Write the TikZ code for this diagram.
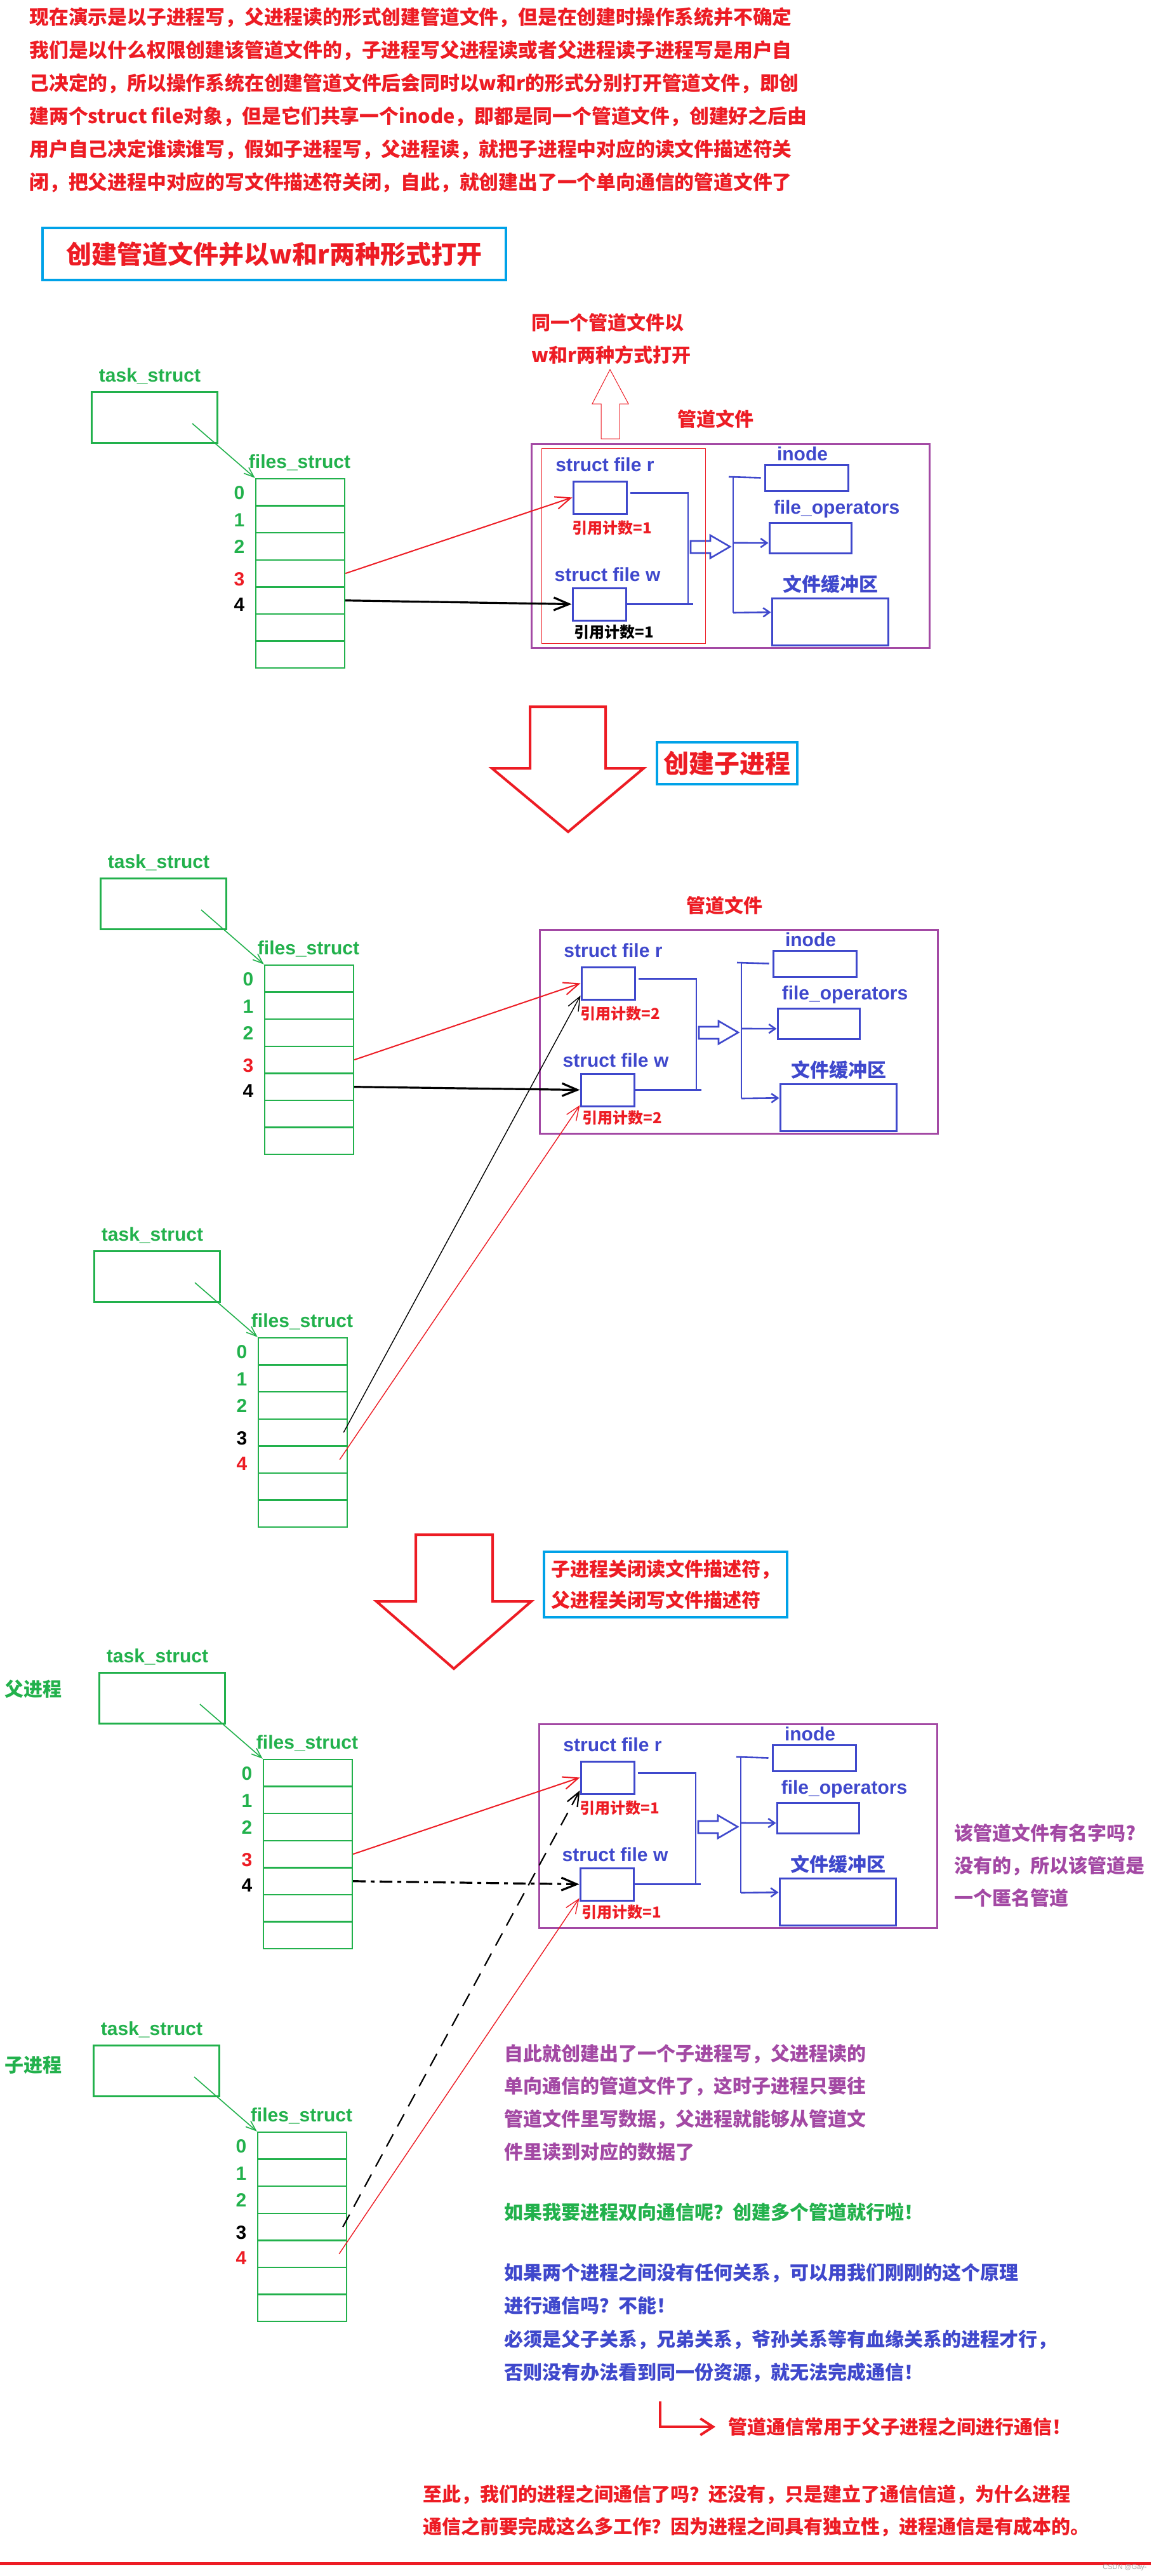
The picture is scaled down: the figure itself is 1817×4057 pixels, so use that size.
\documentclass[tikz,border=0pt]{standalone}
\usepackage{fontspec}
\setmainfont{Noto Sans CJK SC}
\newfontfamily\latfont{Liberation Sans}
\usetikzlibrary{arrows.meta,positioning,calc}

\definecolor{pred}{HTML}{ED1C24}
\definecolor{pgreen}{HTML}{22B14C}
\definecolor{pblue}{HTML}{3F48CC}
\definecolor{ppurple}{HTML}{A349A4}
\definecolor{pcyan}{HTML}{00A2E8}

\tikzset{
    cjk/.style={inner sep=0pt, font=\bfseries\fontsize{15}{25.5}\selectfont},
    lbl/.style={cjk, text height=12pt, text depth=0.6pt},
    latin/.style={lbl, font=\latfont\bfseries\fontsize{15}{18}\selectfont},
    para/.style={cjk, align=left, anchor=north west},
    refcnt/.style={inner sep=0pt, anchor=west, font=\bfseries\fontsize{12}{14}\selectfont, text height=9.6pt, text depth=0.5pt},
    titlebox/.style={draw=pcyan, line width=2pt, text=pred, inner sep=0pt, font=\bfseries\fontsize{20}{24}\selectfont},
    taskbox/.style={draw=pgreen, line width=1.5pt, minimum width=99pt, minimum height=40pt, inner sep=0pt},
    fdrow/.style={draw=pgreen, line width=1.2pt, minimum width=70pt, minimum height=21.3pt, inner sep=0pt},
    pipebox/.style={draw=ppurple, line width=1.5pt, minimum width=313.5pt, minimum height=160.5pt, inner sep=0pt},
    sbox/.style={draw=pblue, line width=1.5pt, inner sep=0pt},
    filebox/.style={sbox, minimum width=42pt, minimum height=25.5pt},
    bline/.style={pblue, line width=1.3pt},
    barr/.style={bline, -{Straight Barb[length=5pt,width=7pt]}},
    garr/.style={pgreen, line width=0.8pt, -{Straight Barb[length=8pt,width=6pt]}},
    redarr/.style={pred, line width=1pt, -{Straight Barb[length=12pt,width=10pt]}},
    blkarr/.style={black, line width=1.6pt, -{Straight Barb[length=12pt,width=10pt]}},
    thinarr/.style={line width=0.7pt, -{Straight Barb[length=11pt,width=9pt]}},
    hollow/.style={pred, line width=2pt},
    % one process: task_struct and its files_struct table
    pics/proc/.style 2 args={code={
        \node[latin, text=pgreen] (-tname) at (92,-27) {task\_struct};
        \node[taskbox] (-task) at (99,40) {};
        \node[latin, text=pgreen] (-fname) at (328,109) {files\_struct};
        \foreach \i in {0,...,6}
            \node[fdrow] (-r\i) at (329,158.3+42.6*\i) {};
        \foreach \i/\c/\d in {0/pgreen/0,1/pgreen/0,2/pgreen/0,3/#1/8,4/#2/5}
            \node[latin, text=\c] (-n\i) at (233,158.3+42.6*\i+\d) {\i};
        \coordinate (-tp) at (159,50);
        \draw[garr] (-tp) -- (-r0.north west);
    }},
    % the pipe file with its two struct file objects
    pics/pipe/.style 2 args={code={
        \node[pipebox] (-box) at (313.5,160.5) {};
        \node[latin, text=pblue] (-tr) at (116,32) {struct file r};
        \node[filebox] (-fr) at (108,84.5) {};
        \node[refcnt, text=pred] (-cr) at (64,132) {引用计数=#1};
        \node[latin, text=pblue] (-tw) at (120,205) {struct file w};
        \node[filebox] (-fw) at (107,252.5) {};
        \node[refcnt, text=#2] (-cw) at (67,296) {引用计数=#1};
        \node[latin, text=pblue] (-ti) at (427,15) {inode};
        \node[sbox, minimum width=65.5pt, minimum height=20.5pt] (-inode) at (433.5,53.5) {};
        \node[latin, text=pblue] (-to) at (481,99) {file\_operators};
        \node[sbox, minimum width=64.5pt, minimum height=24pt] (-fops) at (439.5,148) {};
        \node[lbl, text=pblue] (-tb) at (471,221) {文件缓冲区};
        \node[sbox, minimum width=91.5pt, minimum height=37pt] (-buf) at (470.5,280) {};
        \coordinate (-bb) at (247,252.5);
        \draw[bline] ([xshift=2pt]-fr.9) -| (-bb) -- (-fw.east);
        \draw[bline] (-bb) -- ++(8,0);
        \draw[bline] (251,153) -- (282,153) -- (282,144) -- (313,162) -- (282,180) -- (282,172) -- (251,172) -- cycle;
        \coordinate (-s1) at (318,52);
        \coordinate (-s2) at (318,266);
        \coordinate (-s3) at (318,156);
        \draw[bline] (-s1) -- (-s2);
        \draw[bline] ([xshift=-3.5pt]-s1) -- ([xshift=-2.5pt]-inode.west);
        \draw[barr] (-s3) -- (-fops.187);
        \draw[barr] (-s2) -- (-buf.171);
    }}
}

\begin{document}
\begin{tikzpicture}[x=0.5pt, y=-0.5pt]
\useasboundingbox (0,0) rectangle (1817,4057);
\fill[white] (0,0) rectangle (1817,4057);

% intro
\node[para, text=pred, font=\bfseries\fontsize{15.4}{26}\selectfont] (intro) at (46,11) {现在演示是以子进程写，父进程读的形式创建管道文件，但是在创建时操作系统并不确定\\我们是以什么权限创建该管道文件的，子进程写父进程读或者父进程读子进程写是用户自\\己决定的，所以操作系统在创建管道文件后会同时以w和r的形式分别打开管道文件，即创\\建两个struct file对象，但是它们共享一个inode，即都是同一个管道文件，创建好之后由\\用户自己决定谁读谁写，假如子进程写，父进程读，就把子进程中对应的读文件描述符关\\闭，把父进程中对应的写文件描述符关闭，自此，就创建出了一个单向通信的管道文件了};
\node[titlebox, minimum width=365pt, minimum height=41pt] (title1) at (432,400) {创建管道文件并以w和r两种形式打开};

% step 1: pipe opened for w and r
\pic (par0) at (144,617) {proc={pred}{black}};
\pic (pipe0) at (837,699) {pipe={1}{black}};
\node[draw=pred, line width=0.5pt, minimum width=129pt, minimum height=153.5pt, inner sep=0pt] (rw0) at (982,859.5) {};
\node[lbl, text=pred] (pipe0name) at (1127,660) {管道文件};
\draw[pred, line width=0.5pt] (947,691) -- (947,636) -- (933,636) -- (961,582) -- (990,636) -- (976,636) -- (976,691) -- cycle;
\node[para, text=pred] (same0) at (837,493) {同一个管道文件以\\w和r两种方式打开};
\draw[redarr] (par0-r3.east) -- (pipe0-fr.west);
\draw[blkarr] (par0-r4.east) -- (pipe0-fw.west);

% step 2: fork
\draw[hollow] (835,1113) -- (954,1113) -- (954,1210) -- (1014,1210) -- (895,1310) -- (775,1210) -- (835,1210) -- cycle;
\node[titlebox, minimum width=110.5pt, minimum height=33pt] (title2) at (1145.5,1202) {创建子进程};
\pic (par1) at (158,1383) {proc={pred}{black}};
\pic (chd1) at (148,1970) {proc={black}{pred}};
\pic (pipe1) at (850,1464) {pipe={2}{pred}};
\node[lbl, text=pred] (pipe1name) at (1141,1426) {管道文件};
\draw[redarr] (par1-r3.east) -- (pipe1-fr.west);
\draw[blkarr] (par1-r4.east) -- (pipe1-fw.west);
\draw[thinarr, black] ([xshift=-3.5pt]chd1-r3.east) -- (pipe1-fr.204);
\draw[thinarr, pred] ([xshift=-6.5pt]chd1-r4.east) -- (pipe1-fw.209);

% step 3: close the unused ends
\draw[hollow] (655,2417) -- (776,2417) -- (776,2522) -- (837,2522) -- (715,2628) -- (593,2522) -- (655,2522) -- cycle;
\node[titlebox, align=left, font=\bfseries\fontsize{15}{24.5}\selectfont, minimum width=191.5pt, minimum height=51.5pt] (title3) at (1048.5,2495.5) {子进程关闭读文件描述符，\\父进程关闭写文件描述符};
\node[lbl, text=pgreen] (parname) at (52,2660) {父进程};
\pic (par2) at (156,2634) {proc={pred}{black}};
\node[lbl, text=pgreen] (chdname) at (52,3252) {子进程};
\pic (chd2) at (147,3221) {proc={black}{pred}};
\pic (pipe2) at (849,2715) {pipe={1}{pred}};
\draw[redarr] (par2-r3.east) -- (pipe2-fr.west);
\draw[blkarr, dash pattern=on 10pt off 4pt on 3pt off 4pt] (par2-r4.east) -- (pipe2-fw.west);
\draw[thinarr, black, line width=1.1pt, dash pattern=on 11pt off 7pt] ([xshift=-3.5pt]chd2-r3.east) -- (pipe2-fr.205);
\draw[thinarr, pred] ([xshift=-6.5pt]chd2-r4.east) -- (pipe2-fw.207);
\node[para, text=ppurple] (anon) at (1503,2872) {该管道文件有名字吗?\\没有的，所以该管道是\\一个匿名管道};

% notes
\node[para, text=ppurple, font=\bfseries\fontsize{15}{25.85}\selectfont] (summary) at (794,3219) {自此就创建出了一个子进程写，父进程读的\\单向通信的管道文件了，这时子进程只要往\\管道文件里写数据，父进程就能够从管道文\\件里读到对应的数据了};
\node[lbl, anchor=west, text=pgreen] (duplex) at (794,3484) {如果我要进程双向通信呢？创建多个管道就行啦！};
\node[para, text=pblue, font=\bfseries\fontsize{15}{26.2}\selectfont] (kin) at (794,3564) {如果两个进程之间没有任何关系，可以用我们刚刚的这个原理\\进行通信吗？不能！\\必须是父子关系，兄弟关系，爷孙关系等有血缘关系的进程才行，\\否则没有办法看到同一份资源，就无法完成通信！};
\coordinate (bend) at (1040,3782);
\node[lbl, anchor=west, text=pred] (usage) at (1147,3822) {管道通信常用于父子进程之间进行通信！};
\draw[pred, line width=2pt, -{Straight Barb[length=10pt,width=13pt]}] (bend) |- ([xshift=-10pt]usage.west);
\node[para, text=pred] (cost) at (666,3913) {至此，我们的进程之间通信了吗？还没有，只是建立了通信信道，为什么进程\\通信之前要完成这么多工作？因为进程之间具有独立性，进程通信是有成本的。};
\draw[pred, line width=2.5pt] (0,4037) -- (1813,4037);
\node[inner sep=0pt, text=gray!70, font=\latfont\fontsize{5.5}{6}\selectfont] (mark) at (1772,4044) {CSDN @Gay-};
\end{tikzpicture}
\end{document}
